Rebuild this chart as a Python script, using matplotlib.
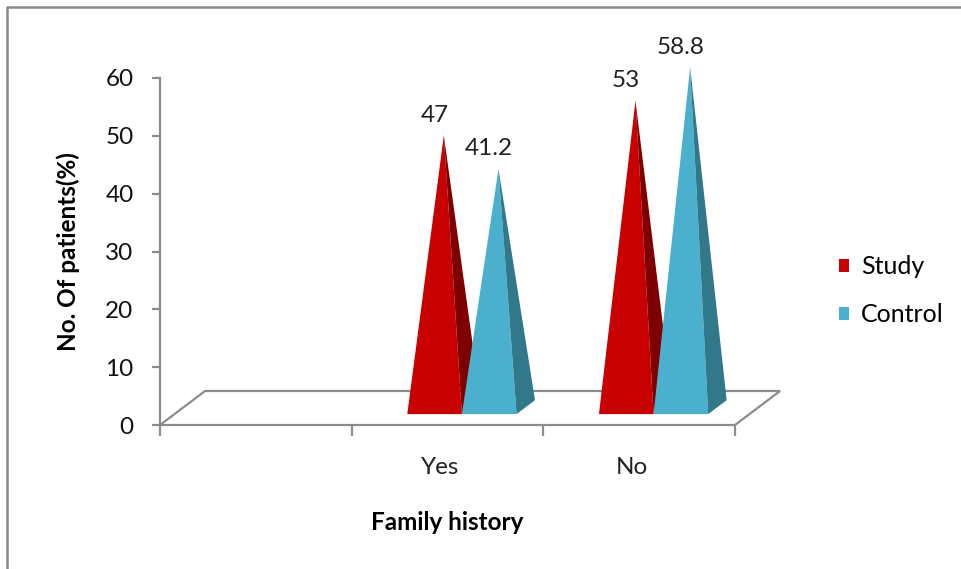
import numpy as np
import matplotlib.pyplot as plt
from matplotlib.patches import Polygon, Patch
from matplotlib.lines import Line2D

plt.rcParams['font.family'] = ['Lato', 'DejaVu Sans']

# data
categories = ['', 'Yes', 'No']
study = [None, 47, 53]
control = [None, 41.2, 58.8]
series_names = ['Study', 'Control']
yticks = [0, 10, 20, 30, 40, 50, 60]

front_colors = ['#C80000', '#4BB0CE']
side_colors = ['#7E0000', '#31788A']
grey = '#8C8C8C'
FS = 17.5

W, H = 962, 569
fig = plt.figure(figsize=(W / 100, H / 100), dpi=100)
ax = fig.add_axes([160 / W, 1 - 425 / H, 575 / W, 347 / H])
ax.set_xlim(0, len(categories))
ax.set_ylim(0, 60)

# fake 3d: how far the floor goes "into" the screen, in data units
DEPTH_X = 0.235
DEPTH_Y = 5.88
D0, D1 = 0.32, 0.73     # depth span of each pyramid (fraction of floor)
BAR_W = 0.285

# floor outline
floor = Polygon([(0, 0), (3, 0), (3 + DEPTH_X, DEPTH_Y), (DEPTH_X, DEPTH_Y)],
                closed=True, fill=False, edgecolor=grey, lw=1.6, clip_on=False, zorder=1)
ax.add_patch(floor)

dx_p = (D1 - D0) * DEPTH_X
dy_p = (D1 - D0) * DEPTH_Y
yb = D0 * DEPTH_Y

for i, cat in enumerate(categories):
    for j, vals in enumerate([study, control]):
        v = vals[i]
        if v is None:
            continue
        xl = i + 0.5 - BAR_W + j * BAR_W + D0 * DEPTH_X
        xr = xl + BAR_W
        apex = (xl + BAR_W / 2 + dx_p / 2, yb + dy_p / 2 + v)
        ax.add_patch(Polygon([(xl, yb), (xr, yb), apex], closed=True,
                             facecolor=front_colors[j], edgecolor='none',
                             clip_on=False, zorder=3 + j))
        ax.add_patch(Polygon([(xr, yb), (xr + dx_p, yb + dy_p), apex], closed=True,
                             facecolor=side_colors[j], edgecolor='none',
                             clip_on=False, zorder=3 + j))
        ax.annotate('{:g}'.format(v), xy=(xl + BAR_W / 2, apex[1]),
                    xytext=(0, 20), textcoords='offset pixels',
                    ha='center', va='center', fontsize=FS, color='#222222',
                    annotation_clip=False)

# axes styling
for s in ['top', 'right', 'bottom']:
    ax.spines[s].set_visible(False)
ax.spines['left'].set_color(grey)
ax.spines['left'].set_linewidth(1.6)

ax.set_yticks(yticks)
ax.set_yticklabels([str(t) for t in yticks])
ax.tick_params(axis='y', direction='out', length=6, width=1.6, color=grey,
               labelsize=FS, pad=13, labelcolor='#111111')
ax.set_xticks(np.arange(len(categories) + 1))
ax.set_xticklabels([])
ax.tick_params(axis='x', direction='out', length=8, width=1.6, color=grey)

for i, cat in enumerate(categories):
    if cat:
        ax.text(i + 0.46, -7.3, cat, ha='center', va='center', fontsize=FS,
                color='#222222')

fig.text(68 / W, 1 - 252 / H, 'No. Of patients(%)', rotation=90, ha='center',
         va='center', fontsize=FS, fontweight='bold')
fig.text(447 / W, 1 - 522 / H, 'Family history', ha='center', va='center',
         fontsize=FS, fontweight='bold')

handles = [Patch(facecolor=c, edgecolor='none') for c in front_colors]
fig.legend(handles, series_names, loc='center left',
           bbox_to_anchor=(816 / W, 1 - 291 / H), frameon=False, fontsize=18,
           handlelength=0.4, handleheight=0.4, handletextpad=0.5, labelspacing=1.0)

# outer chart border (only top and left edges show)
fig.add_artist(Line2D([7 / W, 7 / W, 1], [0, 1 - 7 / H, 1 - 7 / H],
                      transform=fig.transFigure, color='#8A8A8A', lw=1.8))

fig.savefig('out.png', dpi=100)
